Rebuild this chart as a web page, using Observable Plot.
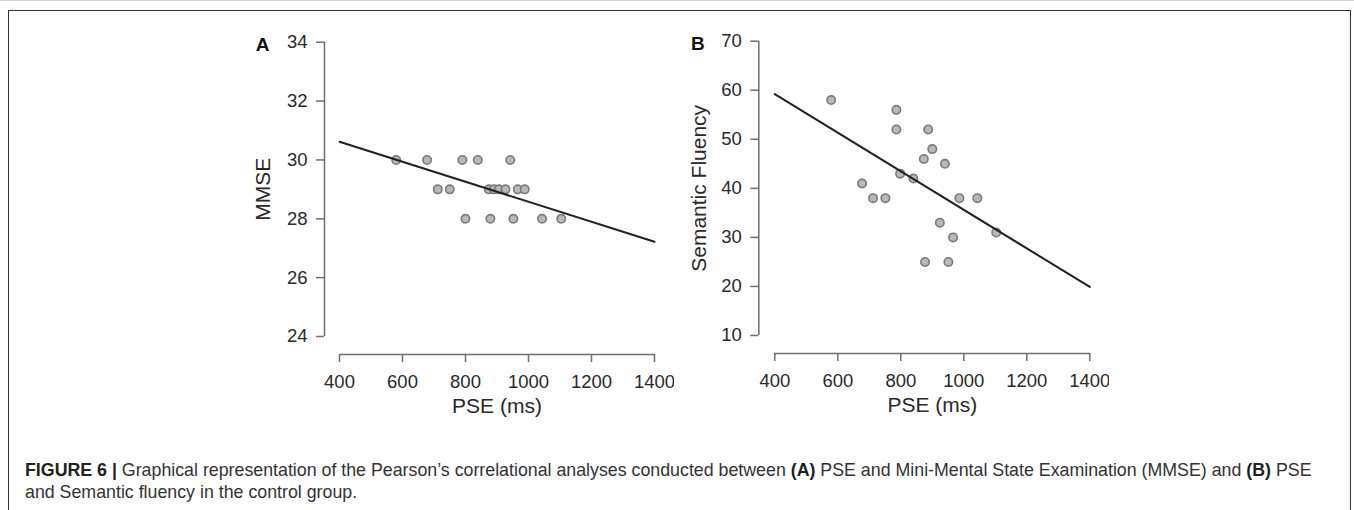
<!DOCTYPE html>
<html>
<head>
<meta charset="utf-8">
<script src="https://cdn.jsdelivr.net/npm/d3@7"></script>
<script src="https://cdn.jsdelivr.net/npm/@observablehq/plot@0.6"></script>
<style>
  body { margin: 0; background: #fff; font-family: "Liberation Sans", Arial, sans-serif; }
  #wrap { position: relative; width: 1354px; height: 510px; overflow: hidden; }
  #topline { position: absolute; left: 0; top: 0; width: 1354px; height: 0; border-top: 1px solid #d0d0d0; }
  #box { position: absolute; left: 8px; top: 10px; width: 1341px; height: 520px; border: 1.5px solid #333; border-bottom: none; }
  .panel { position: absolute; top: 0; }
  #caption { position: absolute; left: 25px; top: 459px; font-size: 17.8px; line-height: 22px; color: #333; white-space: nowrap; }
  #caption b { color: #222; }
</style>
</head>
<body>
<div id="wrap">
  <div id="topline"></div>
  <div id="box"></div>
  <div id="panelA" class="panel" style="left:200px"></div>
  <div id="panelB" class="panel" style="left:640px"></div>
  <div id="caption"><b>FIGURE 6 |</b> Graphical representation of the Pearson’s correlational analyses conducted between <b>(A)</b> PSE and Mini-Mental State Examination (MMSE) and <b>(B)</b> PSE<br>and Semantic fluency in the control group.</div>
</div>
<script>
// ---- data ----
const xTicks = [400, 600, 800, 1000, 1200, 1400];
const xLabel = "PSE (ms)";

// Panel A: PSE vs MMSE
const panelALetter = "A";
const yTicksA = [24, 26, 28, 30, 32, 34];
const yLabelA = "MMSE";
const pseA  = [580, 678, 790, 839, 942, 712, 750, 874, 890, 906, 927, 966, 988, 800, 879, 952, 1043, 1104];
const mmseA = [30, 30, 30, 30, 30, 29, 29, 29, 29, 29, 29, 29, 29, 28, 28, 28, 28, 28];
const fitPseA = [400, 1400];
const fitMmseA = [30.62, 27.22];

// Panel B: PSE vs Semantic Fluency
const panelBLetter = "B";
const yTicksB = [10, 20, 30, 40, 50, 60, 70];
const yLabelB = "Semantic Fluency";
const pseB = [579, 786, 786, 887, 900, 873, 940, 798, 840, 677, 712, 751, 986, 1043, 924, 966, 1103, 877, 951];
const fluB = [58, 56, 52, 52, 48, 46, 45, 43, 42, 41, 38, 38, 38, 38, 33, 30, 31, 25, 25];
const fitPseB = [400, 1400];
const fitFluB = [59.2, 19.9];

// ---- drawing ----
const font = "'Liberation Sans', Arial, Helvetica, sans-serif";
const axisColor = "#6e6e6e";
const textColor = "#2a2a2a";

function panel({letter, pse, vals, fitX, fitY, yTicks, yLabel, width, height, marginLeft, marginTop, yOffset}) {
  const pts = pse.map((p, i) => ({p, v: vals[i]}));
  const fit = fitX.map((p, i) => ({p, v: fitY[i]}));
  return Plot.plot({
    width, height,
    marginLeft, marginTop, marginRight: 20, marginBottom: 100,
    style: {fontFamily: font, background: "transparent", color: textColor},
    x: {domain: [xTicks[0], xTicks[xTicks.length - 1]], axis: null},
    y: {domain: [yTicks[0], yTicks[yTicks.length - 1]], axis: null},
    marks: [
      // y axis (R style, offset)
      Plot.ruleX([xTicks[0]], {y1: yTicks[0], y2: yTicks[yTicks.length - 1], dx: -yOffset, stroke: axisColor, strokeWidth: 1.5}),
      Plot.axisY(yTicks, {dx: -yOffset, tickSize: 8, tickPadding: 9, fontSize: 18.5, stroke: axisColor, strokeWidth: 1.5, fill: textColor, label: null}),
      // x axis
      Plot.ruleY([yTicks[0]], {x1: xTicks[0], x2: xTicks[xTicks.length - 1], dy: 18, stroke: axisColor, strokeWidth: 1.5}),
      Plot.axisX(xTicks, {dy: 18, tickSize: 8, tickPadding: 12, fontSize: 18.5, stroke: axisColor, strokeWidth: 1.5, fill: textColor, label: null, tickFormat: d => String(d)}),
      // axis titles
      Plot.text([xLabel], {frameAnchor: "bottom", textAnchor: "middle", lineAnchor: "middle", dy: 70, fontSize: 21, fill: textColor}),
      Plot.text([yLabel], {frameAnchor: "left", textAnchor: "middle", lineAnchor: "middle", rotate: -90, dx: -76, fontSize: 21, fill: textColor}),
      // panel letter
      Plot.text([letter], {frameAnchor: "top-left", textAnchor: "middle", lineAnchor: "middle", dx: -77, dy: 3, fontSize: 19, fontWeight: "bold", fill: "#111"}),
      // data
      Plot.dot(pts, {x: "p", y: "v", r: 4.2, fill: "#b8b8b8", stroke: "#7a7a7a", strokeWidth: 1.6}),
      Plot.line(fit, {x: "p", y: "v", stroke: "#222", strokeWidth: 2})
    ]
  });
}

document.getElementById("panelA").append(panel({
  letter: panelALetter, pse: pseA, vals: mmseA, fitX: fitPseA, fitY: fitMmseA,
  yTicks: yTicksA, yLabel: yLabelA,
  width: 474, height: 436, marginLeft: 139, marginTop: 41.7, yOffset: 15
}));
document.getElementById("panelB").append(panel({
  letter: panelBLetter, pse: pseB, vals: fluB, fitX: fitPseB, fitY: fitFluB,
  yTicks: yTicksB, yLabel: yLabelB,
  width: 469.3, height: 435, marginLeft: 134.3, marginTop: 40.7, yOffset: 16
}));
</script>
</body>
</html>
